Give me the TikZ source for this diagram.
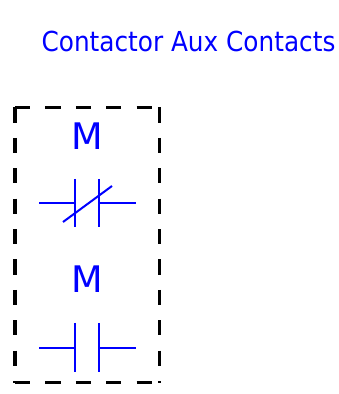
\documentclass[tikz,border=0pt]{standalone}
\usepackage{fontspec}
\setmainfont{DejaVu Sans}
\newfontfamily\titlefont{DejaVu Sans}[FakeStretch=0.9]
\begin{document}
\begin{tikzpicture}[x=1pt,y=1pt,
  wire/.style={draw=blue,line width=2pt},
  frame/.style={draw=black,line width=3.6pt,dash pattern=on 15.2pt off 15.2pt},
  lbl/.style={text=blue,inner sep=0pt,anchor=base}]
\useasboundingbox (0,0) rectangle (338,394);
% title
\node[lbl,font=\titlefont\fontsize{27.5}{30}\selectfont] (title) at (188.5,342) {Contactor Aux Contacts};
% frame corners
\coordinate (tl) at (15,286.5);
\coordinate (tr) at (159.3,286.5);
\coordinate (bl) at (15,11.3);
\coordinate (br) at (159.3,11.3);
\draw[frame] (tl) -- (tr);
\draw[frame] (tl) -- (bl);
\draw[frame] (tr) -- (br);
\draw[frame] (bl) -- (br);
% labels
\node[lbl,font=\fontsize{36.6}{40}\selectfont] (m1) at (87,244.5) {M};
\node[lbl,font=\fontsize{36.6}{40}\selectfont] (m2) at (87,101) {M};
% normally closed contact
\draw[wire] (39,191) -- (75,191);
\draw[wire] (75,215) -- (75,167);
\draw[wire] (99,215) -- (99,167);
\draw[wire] (99,191) -- (136,191);
\draw[wire] (63,172) -- (112,208);
% normally open contact
\draw[wire] (39,46) -- (75,46);
\draw[wire] (75,71) -- (75,22);
\draw[wire] (99,71) -- (99,22);
\draw[wire] (99,46) -- (136,46);
\end{tikzpicture}
\end{document}
